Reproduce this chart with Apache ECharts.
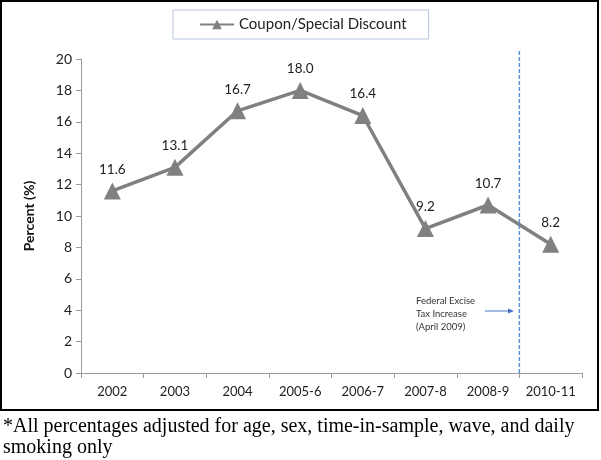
<!DOCTYPE html>
<html>
<head>
<meta charset="utf-8">
<script src="https://cdn.jsdelivr.net/npm/echarts@6/dist/echarts.min.js"></script>
<style>html,body{margin:0;padding:0;background:#fff}#c{width:601px;height:460px}</style>
</head>
<body>
<div id="c"></div>
<script>
const categories = ['2002','2003','2004','2005-6','2006-7','2007-8','2008-9','2010-11'];
const couponValues = [11.6, 13.1, 16.7, 18.0, 16.4, 9.2, 10.7, 8.2];
const seriesName = 'Coupon/Special Discount';
const yTicks = {min: 0, max: 20, interval: 2};
const taxLineBoundary = 7; // boundary before '2010-11'
const taxLineTop = 20.6;
const annotationText = 'Federal Excise\nTax Increase\n(April 2009)';
const footnoteText = '*All percentages adjusted for age, sex, time-in-sample, wave, and daily\nsmoking only';

const chart = echarts.init(document.getElementById('c'), null, {renderer: 'canvas'});
const font = 'Lato, "Open Sans", sans-serif';
chart.setOption({
  animation: false,
  backgroundColor: '#fff',
  textStyle: {fontFamily: font},
  grid: {left: 81, right: 19, top: 59, bottom: 87},
  legend: {
    data: [seriesName],
    top: 10, left: 173,
    padding: [7, 22, 7, 26],
    borderColor: '#b8c6dc', borderWidth: 1,
    itemWidth: 34, itemHeight: 12, itemGap: 3,
    textStyle: {fontSize: 15, color: '#222', fontFamily: font}
  },
  xAxis: [{
    type: 'category', data: categories, boundaryGap: true,
    axisLine: {lineStyle: {color: '#9a9a9a', width: 1}},
    axisTick: {show: true, lineStyle: {color: '#9a9a9a'}, length: 5},
    axisLabel: {color: '#222', fontSize: 13, margin: 12, interval: 0, fontFamily: font},
    splitLine: {show: false}
  }, {
    type: 'value', min: 0, max: categories.length, show: false
  }],
  yAxis: {
    type: 'value', min: yTicks.min, max: yTicks.max, interval: yTicks.interval,
    name: 'Percent (%)', nameLocation: 'middle', nameGap: 45, nameRotate: 90,
    nameTextStyle: {fontWeight: 'bold', fontSize: 14, color: '#111', fontFamily: font},
    axisLine: {show: true, lineStyle: {color: '#9a9a9a'}},
    axisTick: {show: true, length: 5, lineStyle: {color: '#9a9a9a'}},
    axisLabel: {color: '#222', fontSize: 14, margin: 9, fontFamily: font},
    splitLine: {show: false}
  },
  series: [{
    name: seriesName, type: 'line', data: couponValues,
    symbol: 'triangle', symbolSize: 17,
    lineStyle: {color: '#808080', width: 3.5},
    itemStyle: {color: '#808080'},
    label: {show: true, position: 'top', distance: 6, formatter: p => p.value.toFixed(1),
      color: '#222', fontSize: 13.5, fontFamily: font}
  }, {
    name: 'taxLine', type: 'line', xAxisIndex: 1, silent: true, clip: false,
    data: [[taxLineBoundary, 0], [taxLineBoundary, taxLineTop]],
    showSymbol: false, symbol: 'none',
    lineStyle: {color: '#5b8fd6', type: [4, 2], width: 1.5},
    label: {show: false}
  }],
  graphic: [
    {type: 'rect', shape: {x: 1, y: 1, width: 597, height: 409}, style: {fill: 'none', stroke: '#000', lineWidth: 2}},
    {type: 'text', left: 416, top: 294, style: {text: annotationText, font: '9.5px ' + font, fill: '#333', lineHeight: 13}},
    {type: 'line', shape: {x1: 485, y1: 311, x2: 511, y2: 311}, style: {stroke: '#4472c4', lineWidth: 1}},
    {type: 'polygon', shape: {points: [[514, 311], [508, 308.5], [508, 313.5]]}, style: {fill: '#4472c4'}},
    {type: 'text', left: 3, top: 416, style: {text: footnoteText, font: '20px "Liberation Serif", serif', fill: '#000', lineHeight: 21}}
  ]
});
</script>
</body>
</html>
